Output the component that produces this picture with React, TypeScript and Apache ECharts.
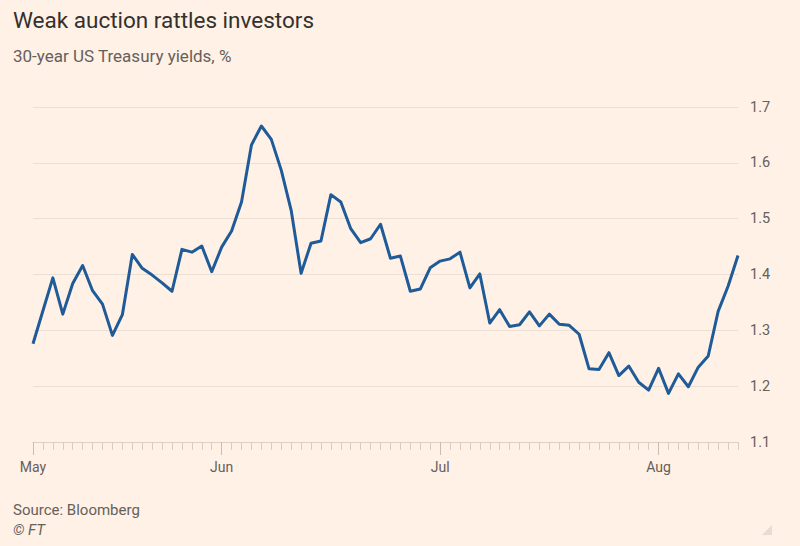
import React, { useEffect, useRef } from "react";
import * as echarts from "echarts";

const titleText = "Weak auction rattles investors";
const subtitleText = "30-year US Treasury yields, %";
const sourceText = "Source: Bloomberg";
const creditText = "© FT";

// Month labels and the trading-day index where each month starts
const monthLabels = ["May", "Jun", "Jul", "Aug"];
const monthStartIndex = [0, 19, 41, 63];

// 30-year US Treasury yield (%), one value per trading day, May–Aug 12
const yields = [
  1.276, 1.335, 1.394, 1.329, 1.384, 1.416, 1.371, 1.347, 1.291, 1.328,
  1.436, 1.411, 1.399, 1.385, 1.370, 1.445, 1.440, 1.451, 1.405, 1.449,
  1.478, 1.530, 1.632, 1.666, 1.642, 1.587, 1.515, 1.402, 1.456, 1.460,
  1.543, 1.530, 1.482, 1.457, 1.464, 1.490, 1.429, 1.433, 1.370, 1.374,
  1.412, 1.424, 1.428, 1.440, 1.376, 1.401, 1.313, 1.337, 1.307, 1.310,
  1.333, 1.308, 1.329, 1.311, 1.309, 1.293, 1.231, 1.230, 1.260, 1.219,
  1.236, 1.207, 1.193, 1.232, 1.187, 1.222, 1.199, 1.234, 1.254, 1.334,
  1.379, 1.434,
];

const days = yields.map((_, i) => String(i));

const yMin = 1.1;
const yMax = 1.7;
const yStep = 0.1;

const FONT = "Roboto, 'Noto Sans', sans-serif";

export default function App() {
  const ref = useRef<HTMLDivElement>(null);

  useEffect(() => {
    document.body.style.margin = "0";
    const chart = echarts.init(ref.current!, null, { renderer: "svg" });
    const isMonth = (i: number) => monthStartIndex.indexOf(i) >= 0;
    chart.setOption({
      animation: false,
      backgroundColor: "#fff1e5",
      textStyle: { fontFamily: FONT },
      grid: { left: 33, width: 705, top: 107, bottom: 104 },
      xAxis: [
        {
          type: "category",
          data: days,
          boundaryGap: false,
          axisLine: { show: true, lineStyle: { color: "#dcd0c5", width: 1 } },
          axisTick: { show: true, interval: 0, length: 8, lineStyle: { color: "#d9cdc2" } },
          axisLabel: { show: false },
          splitLine: { show: false },
        },
        {
          type: "category",
          data: days,
          boundaryGap: false,
          position: "bottom",
          axisLine: { show: false },
          axisTick: {
            show: true,
            interval: (i: number) => isMonth(i),
            length: 13,
            lineStyle: { color: "#c9bdb2" },
          },
          axisLabel: {
            show: true,
            interval: (i: number) => isMonth(i),
            formatter: (_v: string, i: number) => {
              const k = monthStartIndex.indexOf(i);
              return k >= 0 ? monthLabels[k] : "";
            },
            color: "#66605c",
            fontSize: 14,
            fontFamily: FONT,
            margin: 18,
          },
          splitLine: { show: false },
        },
      ],
      yAxis: {
        type: "value",
        position: "right",
        min: yMin,
        max: yMax,
        interval: yStep,
        axisLine: { show: false },
        axisTick: { show: false },
        axisLabel: {
          color: "#66605c",
          fontSize: 14.5,
          fontFamily: FONT,
          margin: 12,
          formatter: (v: number) => v.toFixed(1),
        },
        splitLine: { show: true, lineStyle: { color: "#ebdfd4", width: 1 } },
      },
      series: [
        {
          type: "line",
          data: yields,
          xAxisIndex: 0,
          showSymbol: false,
          symbol: "none",
          lineStyle: { color: "#1f5a99", width: 3, join: "round" },
        },
      ],
      graphic: [
        {
          type: "text",
          left: 13,
          top: 8,
          style: { text: titleText, fontSize: 22.5, fill: "#33302e", fontFamily: FONT },
        },
        {
          type: "text",
          left: 13,
          top: 47,
          style: { text: subtitleText, fontSize: 17, fill: "#66605c", fontFamily: FONT },
        },
        {
          type: "text",
          left: 13,
          top: 502,
          style: { text: sourceText, fontSize: 15, fill: "#66605c", fontFamily: FONT },
        },
        {
          type: "text",
          left: 13,
          top: 522,
          style: { text: creditText, fontSize: 15, fill: "#66605c", fontStyle: "italic", fontFamily: FONT },
        },
        {
          type: "polygon",
          shape: { points: [[772, 525], [772, 535], [762, 535]] },
          style: { fill: "#e6dcd3" },
        },
      ],
    });
    return () => chart.dispose();
  }, []);

  return <div ref={ref} style={{ width: 800, height: 546, background: "#fff1e5" }} />;
}
